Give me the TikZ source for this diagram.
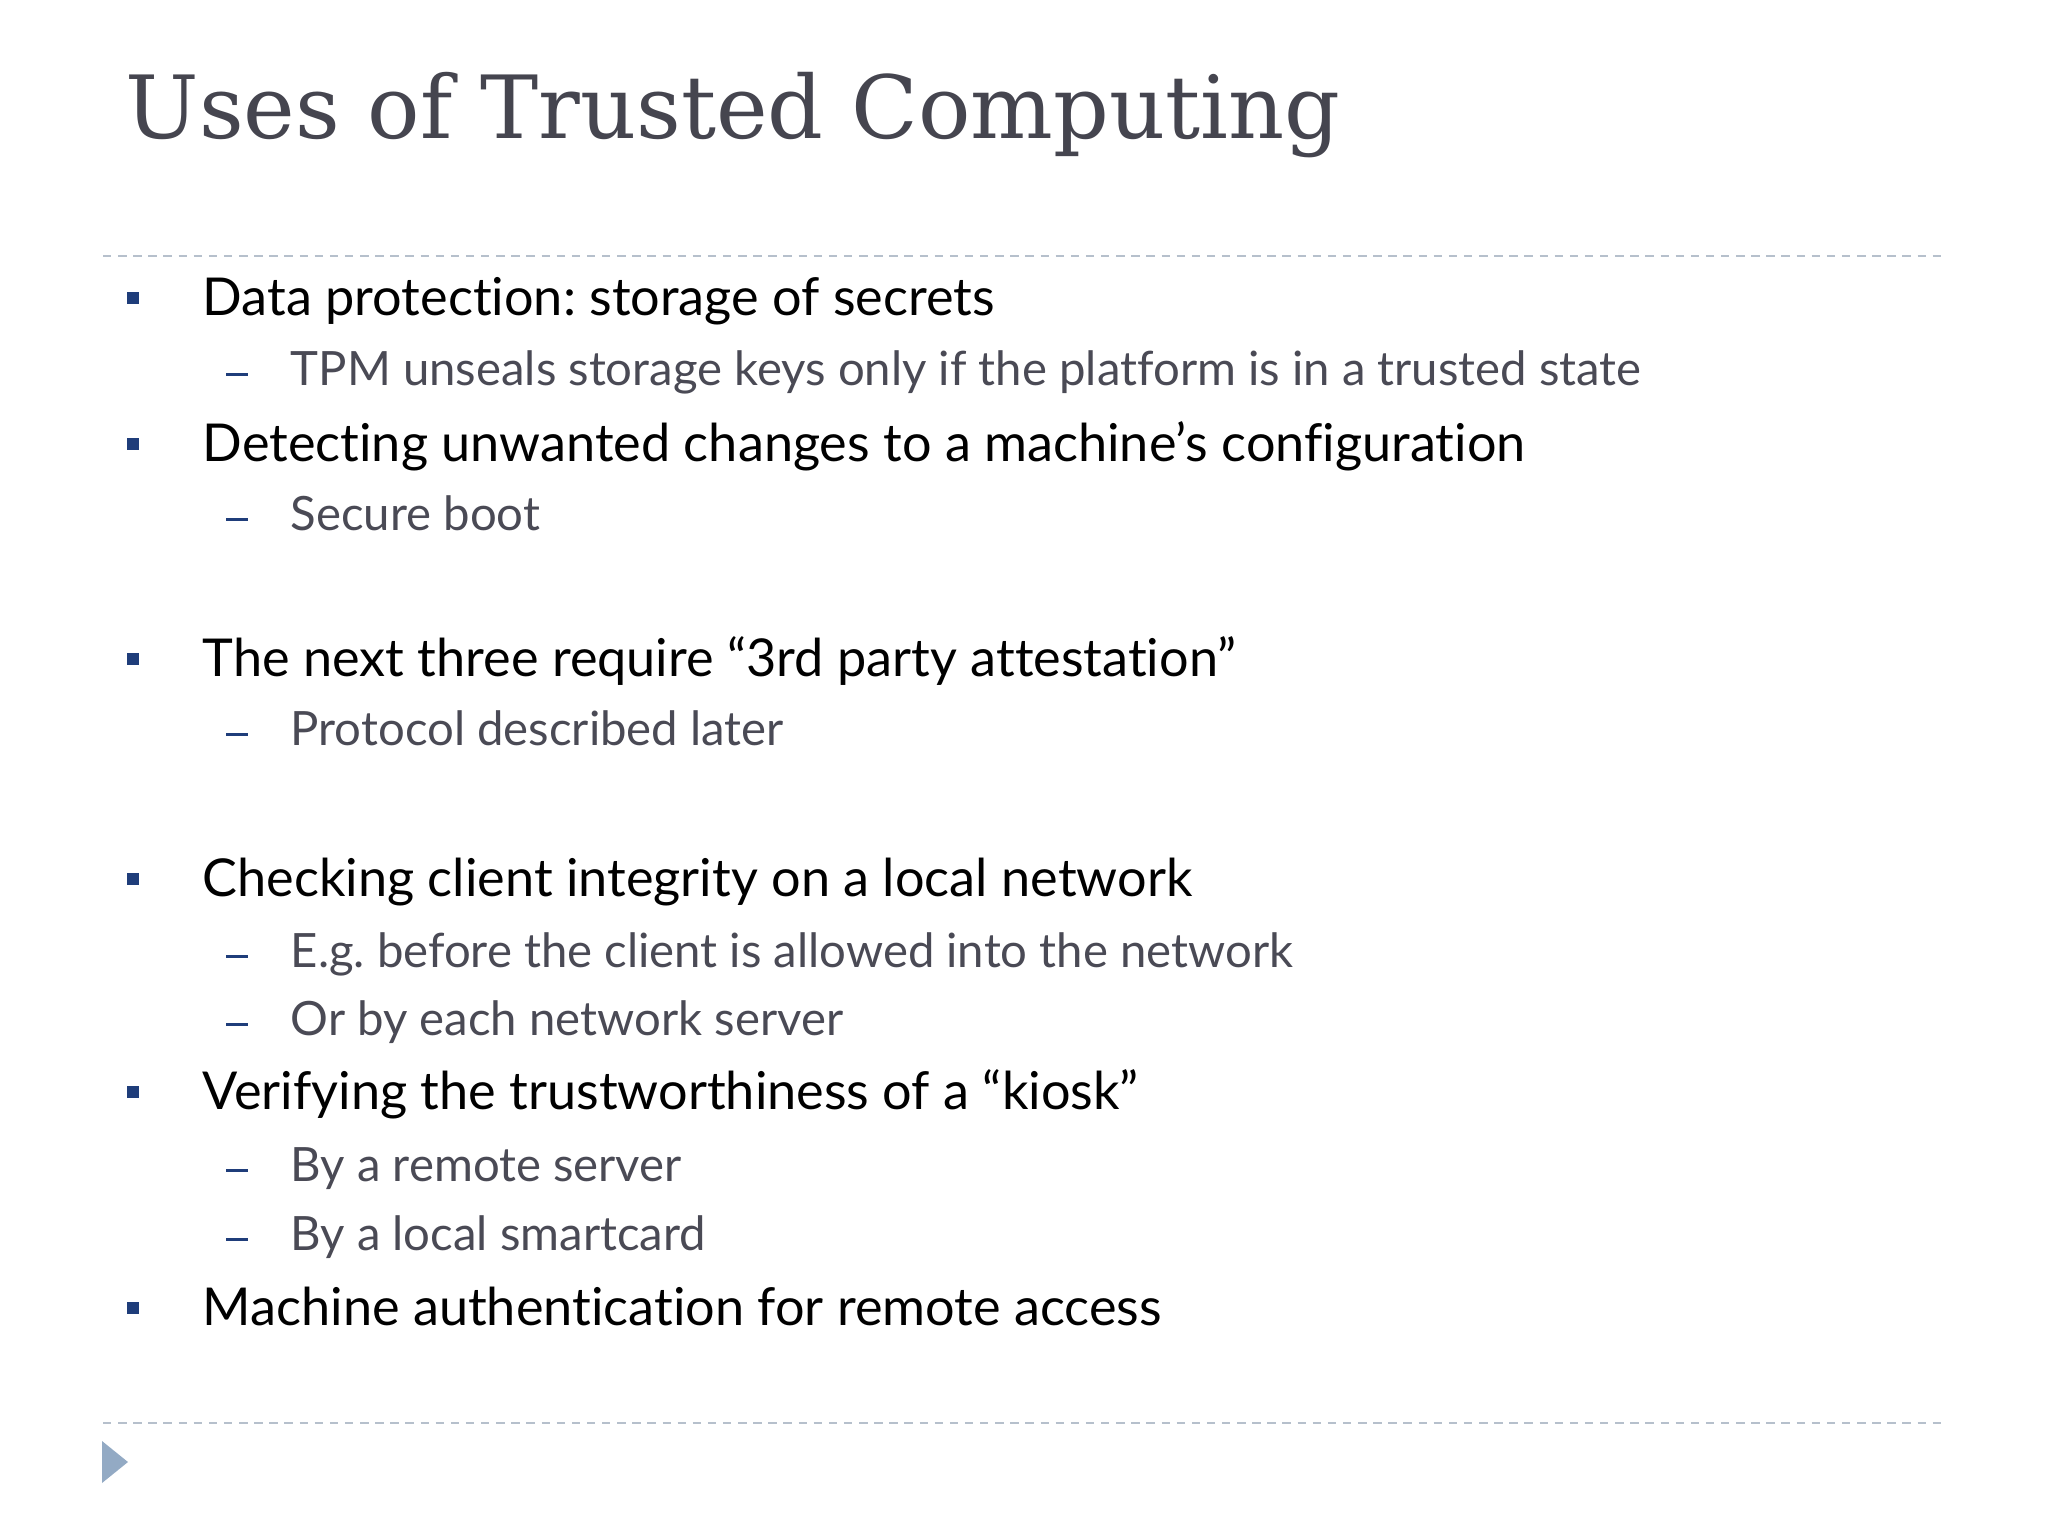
\documentclass[tikz,border=0pt]{standalone}
\usepackage{fontspec}
\setmainfont{Lato}[Ligatures=NoCommon]
\newfontfamily\titlefont{DejaVu Serif}
\definecolor{titlegray}{HTML}{45454F}
\definecolor{subgray}{HTML}{4A4A55}
\definecolor{bulletblue}{HTML}{1F3D7A}
\definecolor{rulegray}{HTML}{B6C0CC}
\definecolor{arrowblue}{HTML}{93AAC4}
\frenchspacing

\begin{document}
\begin{tikzpicture}[x=0.01cm,y=-0.01cm,
  itemone/.style={anchor=base west,inner sep=0pt,text=black,font=\fontsize{14.85}{18}\selectfont},
  itemtwo/.style={anchor=base west,inner sep=0pt,text=subgray,font=\fontsize{13.45}{16}\selectfont},
  rule/.style={rulegray,line width=0.6pt,dash pattern=on 2.4pt off 1.9pt}]
  \useasboundingbox (0,0) rectangle (2048,1536);
  \node[anchor=base west,inner sep=0pt,text=titlegray,font=\titlefont\fontsize{24.8}{30}\selectfont] (title) at (125,138) {Uses of Trusted Computing};
  \draw[rule] (103,256) -- (1946,256);
  \draw[rule] (103,1423) -- (1946,1423);
  \fill[arrowblue] (102,1441) -- (128,1462) -- (102,1483) -- cycle;
  % top level
  \foreach \y/\name/\txt in {315/data/{Data protection: storage of secrets},
      461/detect/{Detecting unwanted changes to a machine’s configuration},
      676/next/{The next three require “3rd party attestation”},
      896/check/{Checking client integrity on a local network},
      1109/verify/{Verifying the trustworthiness of a “kiosk”},
      1325/machine/{Machine authentication for remote access}} {
    \fill[bulletblue] (127,\y-23) rectangle (139,\y-11);
    \node[itemone] (\name) at (202,\y) {\txt};
  }
  % second level
  \foreach \y/\name/\txt in {385/tpm/{TPM unseals storage keys only if the platform is in a trusted state},
      530/boot/{Secure boot},
      745/proto/{Protocol described later},
      967/eg/{E.g. before the client is allowed into the network},
      1035/orby/{Or by each network server},
      1181/remote/{By a remote server},
      1250/card/{By a local smartcard}} {
    \draw[bulletblue,line width=0.85pt] (226,\y-11) -- (248,\y-11);
    \node[itemtwo] (\name) at (290,\y) {\txt};
  }
\end{tikzpicture}
\end{document}
